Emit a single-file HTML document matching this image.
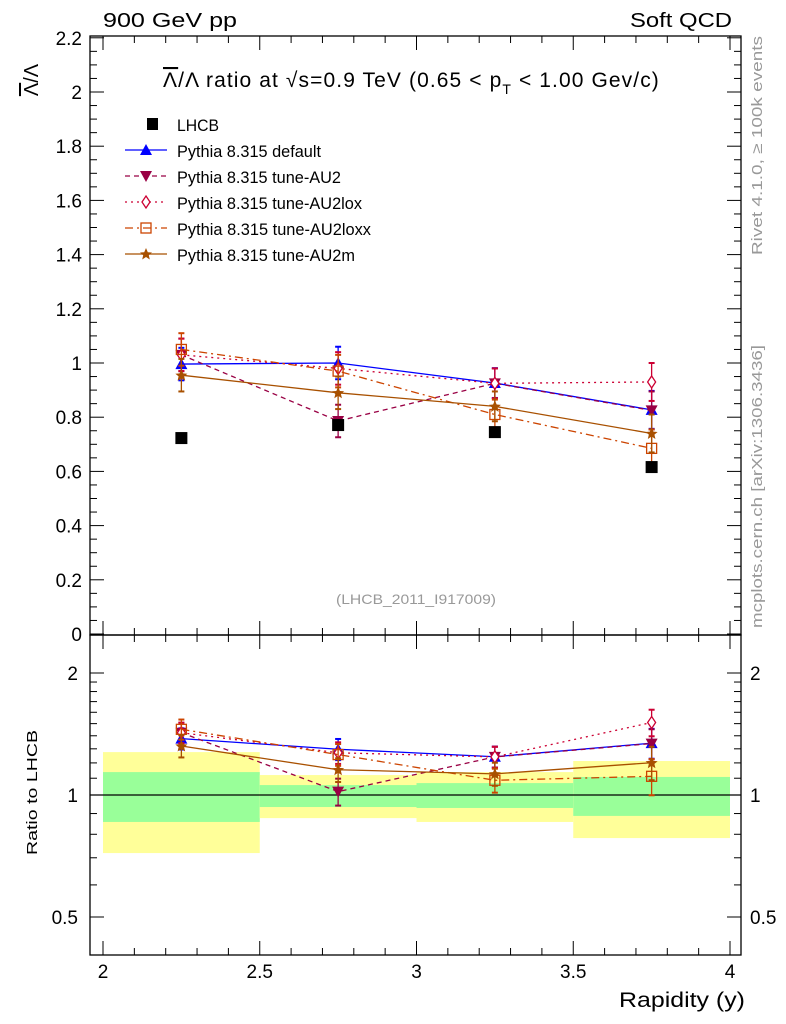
<!DOCTYPE html>
<html><head><meta charset="utf-8"><style>
body{margin:0;background:#fff}
svg{display:block;font-family:"Liberation Sans",sans-serif}
</style></head><body>
<svg id="c" width="786" height="1024" xmlns="http://www.w3.org/2000/svg"></svg>
<script>
const xCats=[2.25,2.75,3.25,3.75];
const binEdges=[2,2.5,3,3.5,4];
const lhcb=[0.723,0.771,0.745,0.616];
const sDefault=[0.996,1.0,0.926,0.827];
const sAU2=[1.03,0.786,0.925,0.825];
const sAU2lox=[1.03,0.98,0.925,0.93];
const sAU2loxx=[1.05,0.97,0.81,0.685];
const sAU2m=[0.955,0.89,0.84,0.74];
const mcErr=[0.06,0.06,0.055,0.07];
const bandYellowHi=[1.276,1.12,1.139,1.213];
const bandYellowLo=[0.719,0.877,0.858,0.783];
const bandGreenHi=[1.139,1.058,1.07,1.108];
const bandGreenLo=[0.858,0.934,0.929,0.888];
const mainTicks=[0,0.2,0.4,0.6,0.8,1,1.2,1.4,1.6,1.8,2,2.2];
const mainTickLabels=["0","0.2","0.4","0.6","0.8","1","1.2","1.4","1.6","1.8","2","2.2"];
const xTicks=[2,2.5,3,3.5,4];
const xTickLabels=["2","2.5","3","3.5","4"];
const ratioTicks=[0.5,1,2];
const ratioTickLabels=["0.5","1","2"];

const NS="http://www.w3.org/2000/svg";
const svg=document.getElementById('c');
const L=90,R=741,T1=36,B1=635,B2=955;
const X=v=>103+(v-2)*313.5;
const Y=v=>634-v*271;
const YR=v=>795-122*Math.log2(v);
function el(tag,at,parent){const e=document.createElementNS(NS,tag);for(const k in at)e.setAttribute(k,at[k]);(parent||svg).appendChild(e);return e;}
function txt(s,at,parent){const e=el('text',at,parent);e.textContent=s;return e;}

const gB=el('g',{});


for(let i=0;i<4;i++){
 const r1=el('rect',{x:X(binEdges[i]),width:X(binEdges[i+1])-X(binEdges[i]),y:YR(bandYellowHi[i]),height:YR(bandYellowLo[i])-YR(bandYellowHi[i]),fill:'#ffff99'},gB);
 
 
 const r2=el('rect',{x:X(binEdges[i]),width:X(binEdges[i+1])-X(binEdges[i]),y:YR(bandGreenHi[i]),height:YR(bandGreenLo[i])-YR(bandGreenHi[i]),fill:'#99ff99'},gB);
 
 
}
el('line',{x1:L,x2:R,y1:YR(1),y2:YR(1),stroke:'#000','stroke-width':1.3});

el('rect',{x:L,y:T1,width:R-L,height:B1-T1,fill:'none',stroke:'#000','stroke-width':1.3});
el('rect',{x:L,y:B1,width:R-L,height:B2-B1,fill:'none',stroke:'#000','stroke-width':1.3});

for(let v=0;v<=2.2001;v+=0.05){const maj=Math.abs(v/0.2-Math.round(v/0.2))<1e-6;const l=maj?14:7;
 el('line',{x1:L,x2:L+l,y1:Y(v),y2:Y(v),stroke:'#000'});el('line',{x1:R,x2:R-l,y1:Y(v),y2:Y(v),stroke:'#000'});}
mainTicks.forEach((v,i)=>{const t=txt(mainTickLabels[i],{x:82,y:Y(v)+7,'font-size':19,'text-anchor':'end'});
 });
for(let v=2;v<=4.0001;v+=0.1){const maj=Math.abs(v*2-Math.round(v*2))<1e-6;const l=maj?14:7;
 [[B1,-1],[T1,1],[B2,-1],[B1,1]].forEach(([y,d])=>el('line',{x1:X(v),x2:X(v),y1:y,y2:y+d*l,stroke:'#000'}));}
xTicks.forEach((v,i)=>{const t=txt(xTickLabels[i],{x:X(v),y:978,'font-size':19,'text-anchor':'middle'});
 });
const rMinor=[0.5,0.6,0.7,0.8,0.9,1,1.1,1.2,1.3,1.4,1.5,1.6,1.7,1.8,1.9,2];
rMinor.forEach(v=>{const maj=[0.5,1,2].includes(v);const l=maj?14:7;
 el('line',{x1:L,x2:L+l,y1:YR(v),y2:YR(v),stroke:'#000'});el('line',{x1:R,x2:R-l,y1:YR(v),y2:YR(v),stroke:'#000'});});
ratioTicks.forEach((v,i)=>{
 const t=txt(ratioTickLabels[i],{x:78,y:YR(v)+7,'font-size':19,'text-anchor':'end'});
 
 const t2=txt(ratioTickLabels[i],{x:750,y:YR(v)+7,'font-size':19});
 });

const series=[
 {name:'default',vals:sDefault,color:'#0000ff',dash:'',mk:'tri'},
 {name:'tune-AU2',vals:sAU2,color:'#990044',dash:'5,4',mk:'tridown'},
 {name:'tune-AU2lox',vals:sAU2lox,color:'#cc0033',dash:'2,4',mk:'diamond'},
 {name:'tune-AU2loxx',vals:sAU2loxx,color:'#cc4400',dash:'8,4,2,4',mk:'square'},
 {name:'tune-AU2m',vals:sAU2m,color:'#a85000',dash:'',mk:'star'},
];
function marker(type,x,y,c,g){
 if(type==='tri')return el('path',{d:`M${x},${y-6}L${x+6},${y+5}L${x-6},${y+5}Z`,fill:c},g);
 if(type==='tridown')return el('path',{d:`M${x},${y+6}L${x+6},${y-5}L${x-6},${y-5}Z`,fill:c},g);
 if(type==='diamond')return el('path',{d:`M${x},${y-6}L${x+4},${y}L${x},${y+6}L${x-4},${y}Z`,fill:'#fff',stroke:c,'stroke-width':1.3},g);
 if(type==='square')return el('rect',{x:x-5,y:y-5,width:10,height:10,fill:'none',stroke:c,'stroke-width':1.3},g);
 if(type==='star')return el('path',{d:`M${x},${y-6}L${x+1.8},${y-1.8}L${x+6},${y-1.5}L${x+2.8},${y+1.2}L${x+3.8},${y+5.5}L${x},${y+3}L${x-3.8},${y+5.5}L${x-2.8},${y+1.2}L${x-6},${y-1.5}L${x-1.8},${y-1.8}Z`,fill:c},g);
 if(type==='sq')return el('rect',{x:x-6,y:y-6,width:12,height:12,fill:c},g);
}
series.forEach(s=>{
 const g=el('g',{});
 
 
 const ratios=s.vals.map((v,i)=>v/lhcb[i]);
 [[s.vals,Y,1],[ratios,YR,0]].forEach(([vals,fy,main])=>{
  el('polyline',{points:vals.map((v,i)=>X(xCats[i])+','+fy(v)).join(' '),fill:'none',stroke:s.color,'stroke-width':1.3,'stroke-dasharray':s.dash},g);
  vals.forEach((v,i)=>{
   const e=main?mcErr[i]:mcErr[i]/lhcb[i];
   const x=X(xCats[i]);
   el('line',{x1:x,x2:x,y1:fy(v+e),y2:fy(Math.max(v-e,0.01)),stroke:s.color,'stroke-width':1.3},g);
   el('line',{x1:x-3,x2:x+3,y1:fy(v+e),y2:fy(v+e),stroke:s.color,'stroke-width':2},g);
   el('line',{x1:x-3,x2:x+3,y1:fy(v-e),y2:fy(v-e),stroke:s.color,'stroke-width':2},g);
   const m=marker(s.mk,x,fy(v),s.color,g);
   
   
  });
 });
});
const gD=el('g',{});


lhcb.forEach((v,i)=>{const m=marker('sq',X(xCats[i]),Y(v),'#000',gD);
 
 });

const leg=el('g',{});


const lt=txt('LHCB',{x:177,y:131,'font-size':17,textLength:42,lengthAdjust:'spacingAndGlyphs'},leg);


marker('sq',153,124,'#000',leg).setAttribute('width',11);
const legW=[144,164,185,194,178];
series.forEach((s,i)=>{const y=150+i*26;
 el('line',{x1:125,x2:167,y1:y,y2:y,stroke:s.color,'stroke-width':1.3,'stroke-dasharray':s.dash},leg);
 marker(s.mk,146,y,s.color,leg);
 const t=txt('Pythia 8.315 '+s.name,{x:177,y:y+7,'font-size':17,textLength:legW[i],lengthAdjust:'spacingAndGlyphs'},leg);
 });

function lab(s,at,name){const t=txt(s,at);return t;}
lab('900 GeV pp',{x:103,y:27,'font-size':20,textLength:134,lengthAdjust:'spacingAndGlyphs'},'top-left-label');
lab('Soft QCD',{x:630,y:27,'font-size':20,textLength:102,lengthAdjust:'spacingAndGlyphs'},'top-right-label');
const title=lab('',{x:163,y:87,'font-size':21,'letter-spacing':1.1},'plot-title');
title.innerHTML='<tspan text-decoration="overline">Λ</tspan>/Λ ratio at √s=0.9 TeV (0.65 &lt; p<tspan dy="7" font-size="14">T</tspan><tspan dy="-7"> &lt; 1.00 Gev/c)</tspan>';
const yt=lab('',{x:0,y:0,'font-size':20,transform:'translate(38,80) rotate(-90)','text-anchor':'middle'},'y-axis-title');
yt.innerHTML='<tspan text-decoration="overline">Λ</tspan>/Λ';
lab('Ratio to LHCB',{x:0,y:0,'font-size':15,transform:'translate(37,855) rotate(-90)',textLength:125,lengthAdjust:'spacingAndGlyphs'},'ratio-axis-title');
lab('Rapidity (y)',{x:619,y:1007,'font-size':21,textLength:126,lengthAdjust:'spacingAndGlyphs'},'x-axis-title');
lab('(LHCB_2011_I917009)',{x:336,y:604,'font-size':14,fill:'#999',textLength:160,lengthAdjust:'spacingAndGlyphs'},'analysis-id');
lab('Rivet 4.1.0, ≥ 100k events',{x:0,y:0,'font-size':15,fill:'#999',transform:'translate(762,255) rotate(-90)',textLength:219,lengthAdjust:'spacingAndGlyphs'},'rivet-label');
lab('mcplots.cern.ch [arXiv:1306.3436]',{x:0,y:0,'font-size':15,fill:'#999',transform:'translate(762,628) rotate(-90)',textLength:283,lengthAdjust:'spacingAndGlyphs'},'mcplots-label');
</script>
</body></html>
